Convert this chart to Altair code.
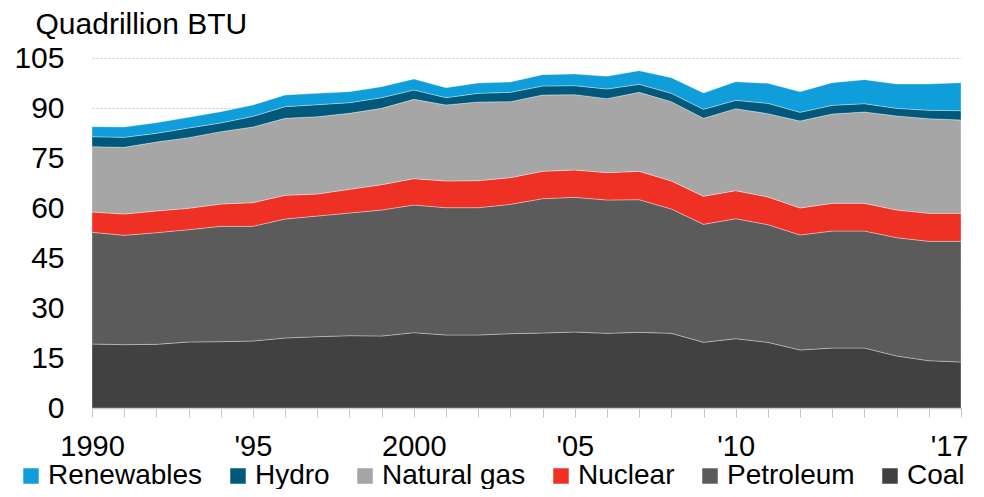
import json
import altair as alt
import pandas as pd

years = list(range(1990, 2018))
coal = [19.2, 19.0, 19.1, 19.8, 19.9, 20.1, 21.0, 21.4, 21.7, 21.6, 22.6, 21.9, 21.9, 22.3, 22.5, 22.8,
        22.4, 22.7, 22.4, 19.7, 20.8, 19.7, 17.4, 18.0, 18.0, 15.6, 14.2, 13.8]
petroleum = [33.5, 32.8, 33.5, 33.7, 34.6, 34.4, 35.7, 36.2, 36.8, 37.8, 38.3, 38.2, 38.2, 38.8, 40.3, 40.4,
             40.0, 39.8, 37.3, 35.4, 36.0, 35.3, 34.5, 35.1, 35.1, 35.5, 35.8, 36.2]
nuclear = [6.1, 6.4, 6.5, 6.4, 6.7, 7.1, 7.1, 6.6, 7.1, 7.6, 7.9, 8.0, 8.1, 8.0, 8.2, 8.2,
           8.2, 8.5, 8.4, 8.4, 8.4, 8.3, 8.1, 8.3, 8.3, 8.3, 8.4, 8.4]
natural_gas = [19.6, 20.0, 20.7, 21.2, 21.7, 22.7, 23.1, 23.2, 22.8, 22.9, 23.8, 22.8, 23.6, 22.8, 22.9, 22.6,
               22.2, 23.7, 23.8, 23.4, 24.6, 25.0, 26.1, 26.8, 27.4, 28.2, 28.4, 28.0]
hydro = [3.0, 3.0, 2.6, 2.9, 2.6, 3.2, 3.5, 3.6, 3.2, 3.2, 2.8, 2.2, 2.6, 2.8, 2.7, 2.7,
         2.9, 2.4, 2.5, 2.7, 2.5, 3.1, 2.6, 2.6, 2.5, 2.3, 2.5, 2.8]
renewables = [3.0, 3.1, 3.2, 3.2, 3.4, 3.4, 3.5, 3.4, 3.3, 3.3, 3.3, 3.0, 3.1, 3.1, 3.4, 3.5,
              3.8, 4.1, 4.7, 4.9, 5.6, 6.0, 6.2, 6.8, 7.2, 7.3, 7.9, 8.4]

legend_order = ["Renewables", "Hydro", "Natural gas", "Nuclear", "Petroleum", "Coal"]
stack_order = ["Coal", "Petroleum", "Nuclear", "Natural gas", "Hydro", "Renewables"]
colors = ["#0f9ed9", "#00587a", "#a6a6a6", "#ee3124", "#5b5b5b", "#414141"]

label_years = [1990, 1995, 2000, 2005, 2010, 2017]
label_texts = ["1990", "'95", "2000", "'05", "'10", "'17"]
y_ticks = [0, 15, 30, 45, 60, 75, 90, 105]

series = {
    "Coal": coal, "Petroleum": petroleum, "Nuclear": nuclear,
    "Natural gas": natural_gas, "Hydro": hydro, "Renewables": renewables,
}
rows = []
for name in stack_order:
    for y, v in zip(years, series[name]):
        rows.append({"year": y, "source": name, "value": v, "order": stack_order.index(name)})
df = pd.DataFrame(rows)

expr = "''"
for yv, t in reversed(list(zip(label_years, label_texts))):
    expr = f"datum.value == {yv} ? {json.dumps(t)} : ({expr})"
last_test = f"datum.value == {label_years[-1]}"

FONT = "Liberation Sans"

chart = alt.Chart(df).mark_area(
    stroke="white", strokeWidth=0.6, strokeOpacity=0.55, interpolate="linear"
).encode(
    x=alt.X("year:Q",
            scale=alt.Scale(domain=[1990, 2017], nice=False, zero=False),
            axis=alt.Axis(values=years, labelExpr=expr, title=None, grid=False,
                          labelOverlap=False, labelFontSize=29, labelPadding=15,
                          labelAlign={"condition": {"test": last_test, "value": "right"}, "value": "center"},
                          labelOffset={"condition": {"test": last_test, "value": 7}, "value": 0},
                          tickSize=9, tickColor="#c6c6c6", domainColor="#c6c6c6",
                          domainWidth=1.5, labelFont=FONT, labelColor="black",
                          labelFlush=False)),
    y=alt.Y("value:Q", stack="zero",
            scale=alt.Scale(domain=[0, 105], nice=False),
            axis=alt.Axis(values=y_ticks, title="Quadrillion BTU", titleAngle=0,
                          titleX=-57, titleY=-25, titleAlign="left", titleBaseline="alphabetic",
                          titleFontSize=30, titleFontWeight="normal", titleFont=FONT,
                          titleColor="black", ticks=False, domain=False,
                          labelFontSize=30, labelPadding=28, labelFont=FONT, labelColor="black",
                          gridDash=[2, 2], gridColor="#c8c8c8", gridWidth=1)),
    color=alt.Color("source:N",
                    scale=alt.Scale(domain=legend_order, range=colors),
                    legend=alt.Legend(title=None, orient="none", direction="horizontal",
                                      columns=6, legendX=-75, legendY=404,
                                      symbolType="square", symbolSize=240,
                                      symbolStrokeWidth=0, labelFontSize=28,
                                      labelFont=FONT, labelColor="black",
                                      labelOffset=3, columnPadding=21, padding=0,
                                      gridAlign="none", labelLimit=400)),
    order=alt.Order("order:Q"),
).properties(
    width=869, height=350,
    autosize=alt.AutoSizeParams(type="none"),
    padding={"left": 84, "top": 50, "right": 15, "bottom": 81},
).configure_view(stroke=None)

chart.save("out.html", embed_options={"renderer": "svg", "actions": False})
